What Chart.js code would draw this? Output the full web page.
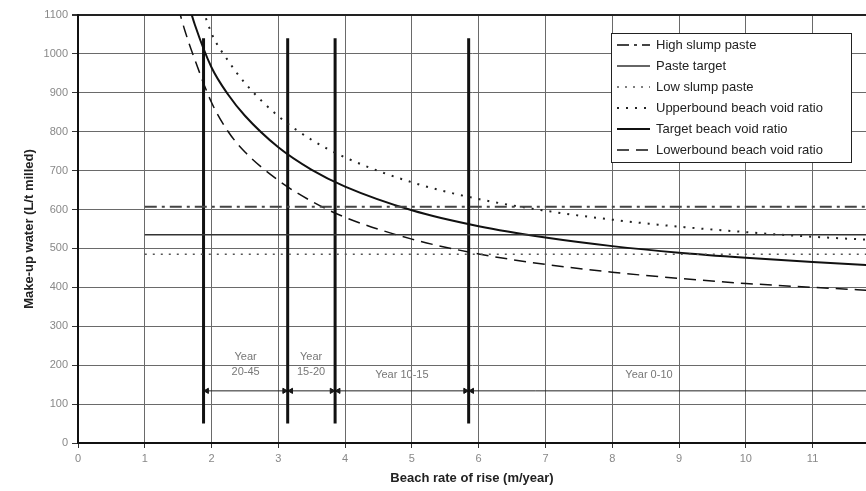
<!DOCTYPE html>
<html>
<head>
<meta charset="utf-8">
<script src="https://cdn.jsdelivr.net/npm/chart.js@4"></script>
<style>
  html, body { margin: 0; padding: 0; background: #fff; }
  #wrap { width: 866px; height: 491px; }
</style>
</head>
<body>
<div id="wrap"><canvas id="beachChart" width="866" height="491"></canvas></div>
<script>
// beach rate of rise (m/year) where the curves were read
const curveX = [1.4, 1.5, 1.6, 1.75, 2, 2.25, 2.5, 3, 3.5, 4, 5, 6, 7, 8, 9, 10, 11, 12];
const upperVoid = [null, null, null, 1180, 1053, 982, 925, 840, 779, 734, 670, 627, 597, 574, 556, 542, 530, 521];
const targetVoid = [null, null, 1160, 1075, 965, 895, 841, 760, 702, 659, 598, 557, 528, 506, 489, 476, 465, 456];
const lowerVoid = [null, 1120, 1060, 985, 875, 800, 748, 675, 621, 580, 524, 486, 459, 439, 423, 410, 400, 391];

// paste make-up water (flat lines)
const pasteX = [1, 12];
const highSlump = [607, 607];
const pasteTarget = [535, 535];
const lowSlump = [485, 485];

// year boundaries and labels
const yearBounds = [1.88, 3.14, 3.85, 5.85];
const boundSpan = [50, 1040];
const arrowLevel = 134;
const yearLabels = [["Year", "20-45"], ["Year", "15-20"], ["Year 10-15"], ["Year 0-10"]];
const yearLabelX = [2.51, 3.49, 4.85, 8.55];

const xTicks = [0, 1, 2, 3, 4, 5, 6, 7, 8, 9, 10, 11];
const yTicks = [0, 100, 200, 300, 400, 500, 600, 700, 800, 900, 1000, 1100];

const pts = (xs, ys) => xs.map((x, i) => ({ x: x, y: ys[i] })).filter(p => p.y !== null);

const series = [
  { label: "High slump paste", data: pts(pasteX, highSlump), borderColor: "#444", borderWidth: 2, borderDash: [12, 5, 3, 5] },
  { label: "Paste target", data: pts(pasteX, pasteTarget), borderColor: "#333", borderWidth: 1.5, borderDash: [] },
  { label: "Low slump paste", data: pts(pasteX, lowSlump), borderColor: "#555", borderWidth: 1.5, borderDash: [2, 6] },
  { label: "Upperbound beach void ratio", data: pts(curveX, upperVoid), borderColor: "#222", borderWidth: 2, borderDash: [2, 7] },
  { label: "Target beach void ratio", data: pts(curveX, targetVoid), borderColor: "#111", borderWidth: 2, borderDash: [] },
  { label: "Lowerbound beach void ratio", data: pts(curveX, lowerVoid), borderColor: "#111", borderWidth: 1.5, borderDash: [12, 7] }
];

const datasets = series.map(s => ({
  label: s.label,
  data: s.data,
  borderColor: s.borderColor,
  borderWidth: s.borderWidth,
  borderDash: s.borderDash,
  pointRadius: 0,
  fill: false,
  cubicInterpolationMode: "monotone",
  tension: 0.4
}));

// vertical year boundary lines
yearBounds.forEach(b => {
  datasets.push({
    label: "_bound",
    data: [{ x: b, y: boundSpan[0] }, { x: b, y: boundSpan[1] }],
    borderColor: "#111",
    borderWidth: 3,
    pointRadius: 0
  });
});

// arrow line
datasets.push({
  label: "_arrowline",
  data: [{ x: yearBounds[0], y: arrowLevel }, { x: 12, y: arrowLevel }],
  borderColor: "#222",
  borderWidth: 1,
  pointRadius: 0
});

// arrow heads, pointing at each boundary
const heads = [];
const rots = [];
yearBounds.forEach((b, i) => {
  if (i > 0) { heads.push({ x: b - 0.05, y: arrowLevel }); rots.push(90); }
  heads.push({ x: b + 0.05, y: arrowLevel }); rots.push(270);
});
datasets.push({
  label: "_heads",
  data: heads,
  showLine: false,
  pointStyle: "triangle",
  pointRadius: 3,
  pointRotation: rots,
  pointBackgroundColor: "#111",
  pointBorderColor: "#111",
  borderWidth: 1
});

const annotations = {
  id: "annotations",
  afterDatasetsDraw(chart) {
    const ctx = chart.ctx;
    const xs = chart.scales.x, ys = chart.scales.y;
    ctx.save();
    ctx.fillStyle = "#777";
    ctx.font = "11px 'Liberation Sans', Arial, sans-serif";
    ctx.textAlign = "center";
    ctx.textBaseline = "middle";
    yearLabels.forEach((lines, i) => {
      const px = xs.getPixelForValue(yearLabelX[i]);
      if (lines.length === 2) {
        ctx.fillText(lines[0], px, ys.getPixelForValue(222));
        ctx.fillText(lines[1], px, ys.getPixelForValue(182));
      } else {
        ctx.fillText(lines[0], px, ys.getPixelForValue(175));
      }
    });
    ctx.restore();
  },
  afterDraw(chart) {
    const ctx = chart.ctx;
    const box = { left: 611, top: 33, width: 240, height: 129 };
    ctx.save();
    ctx.fillStyle = "#fff";
    ctx.fillRect(box.left, box.top, box.width, box.height);
    ctx.strokeStyle = "#222";
    ctx.lineWidth = 1;
    ctx.strokeRect(box.left + 0.5, box.top + 0.5, box.width, box.height);
    ctx.font = "13px 'Liberation Sans', Arial, sans-serif";
    ctx.textBaseline = "middle";
    ctx.textAlign = "left";
    series.forEach((s, i) => {
      const y = box.top + 12 + i * 21;
      ctx.strokeStyle = s.borderColor;
      ctx.lineWidth = s.borderWidth;
      ctx.setLineDash(s.borderDash);
      ctx.beginPath();
      ctx.moveTo(617, y);
      ctx.lineTo(650, y);
      ctx.stroke();
      ctx.setLineDash([]);
      ctx.fillStyle = "#222";
      ctx.fillText(s.label, 656, y);
    });
    ctx.restore();
  }
};

const ctx = document.getElementById("beachChart").getContext("2d");
const chart = new Chart(ctx, {
  type: "line",
  data: { datasets: datasets },
  options: {
    responsive: false,
    animation: false,
    layout: { autoPadding: false, padding: { top: 15, left: 0, right: 0, bottom: 0 } },
    plugins: {
      legend: { display: false },
      tooltip: { enabled: false }
    },
    scales: {
      x: {
        type: "linear",
        min: 0,
        max: 11.8,
        afterBuildTicks: scale => { scale.ticks = xTicks.map(v => ({ value: v })); },
        afterFit: scale => { scale.height = 48; scale.paddingLeft = 0; scale.paddingRight = 0; },
        ticks: {
          color: "#888",
          font: { size: 11, family: "'Liberation Sans', Arial, sans-serif" },
          maxRotation: 0,
          padding: 4
        },
        grid: { color: "#6a6a6a", lineWidth: 1, tickLength: 5, tickColor: "#333" },
        border: { color: "#111", width: 2 },
        title: {
          display: true,
          text: "Beach rate of rise (m/year)",
          color: "#222",
          font: { size: 13, weight: "bold", family: "'Liberation Sans', Arial, sans-serif" },
          padding: { top: 0, bottom: 5 }
        }
      },
      y: {
        min: 0,
        max: 1100,
        afterBuildTicks: scale => { scale.ticks = yTicks.map(v => ({ value: v })); },
        afterFit: scale => { scale.width = 78; },
        ticks: {
          color: "#888",
          font: { size: 11, family: "'Liberation Sans', Arial, sans-serif" },
          padding: 4,
          callback: v => String(v)
        },
        grid: {
          color: c => (c.tick && c.tick.value === 1100 ? "#222" : "#6a6a6a"),
          lineWidth: c => (c.tick && c.tick.value === 1100 ? 2 : 1),
          tickLength: 6,
          tickColor: "#333"
        },
        border: { color: "#111", width: 2 },
        title: {
          display: true,
          text: "Make-up water (L/t milled)",
          color: "#222",
          font: { size: 13, weight: "bold", family: "'Liberation Sans', Arial, sans-serif" },
          padding: { top: 22, bottom: 0 }
        }
      }
    }
  },
  plugins: [annotations]
});
</script>
</body>
</html>
